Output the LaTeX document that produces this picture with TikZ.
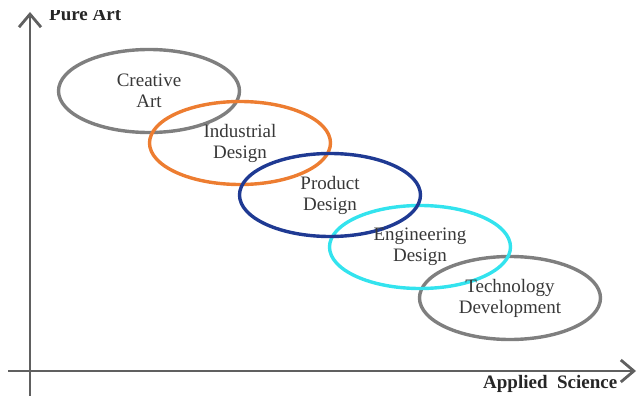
\documentclass[tikz,border=0pt]{standalone}
\usepackage{fontspec}
\setmainfont{Liberation Serif}
\usetikzlibrary{arrows.meta,shapes.geometric}

\definecolor{axisgray}{HTML}{606060}
\definecolor{ringgray}{HTML}{7F7F7F}
\definecolor{ringorange}{HTML}{ED7D31}
\definecolor{ringblue}{HTML}{1F3A93}
\definecolor{ringcyan}{HTML}{33E3EE}
\definecolor{labeltext}{HTML}{383838}

\tikzset{
  ring/.style={draw=#1, ellipse, line width=3.4pt, minimum width=181pt,
               minimum height=83pt, inner sep=0pt},
  field/.style={align=center, text=labeltext, inner sep=0pt,
                font=\fontsize{19}{21}\selectfont},
  axisline/.style={draw=axisgray, line width=2.8pt,
                   -{Straight Barb[length=13pt,width=22pt]}},
  axislabel/.style={text=black!85, inner sep=0pt,
                    font=\fontsize{19}{21}\selectfont\bfseries}
}

\begin{document}
\begin{tikzpicture}[x=1pt,y=-1pt]
  \useasboundingbox (0,0) rectangle (638,396);

  % axes
  \coordinate (ybase) at (30,396);
  \coordinate (ytip)  at (30,12);
  \coordinate (xbase) at (8,371);
  \coordinate (xtip)  at (636,371);
  \draw[axisline] (ybase) -- (ytip);
  \draw[axisline] (xbase) -- (xtip);

  % axis labels
  \begin{scope}
    \clip (40,11) rectangle (140,30);
    \node[axislabel, anchor=base west] (pureart) at (49,21) {Pure Art};
  \end{scope}
  \node[axislabel, anchor=base west] (appsci) at (483,388) {Applied\ \ Science};

  % overlapping fields
  \node[ring=ringgray]   (tech) at (510,298) {};
  \node[ring=ringcyan]   (eng)  at (420,247) {};
  \node[ring=ringgray]   (art)  at (149,91)  {};
  \node[ring=ringorange] (ind)  at (240,143) {};
  \node[ring=ringblue]   (prod) at (330,195) {};

  % field names
  \node[field] (artname)  at (art.center)  {Creative\\Art};
  \node[field] (indname)  at (ind.center)  {Industrial\\Design};
  \node[field] (prodname) at (prod.center) {Product\\Design};
  \node[field] (engname)  at (eng.center)  {Engineering\\Design};
  \node[field] (techname) at (tech.center) {Technology\\Development};
\end{tikzpicture}
\end{document}
